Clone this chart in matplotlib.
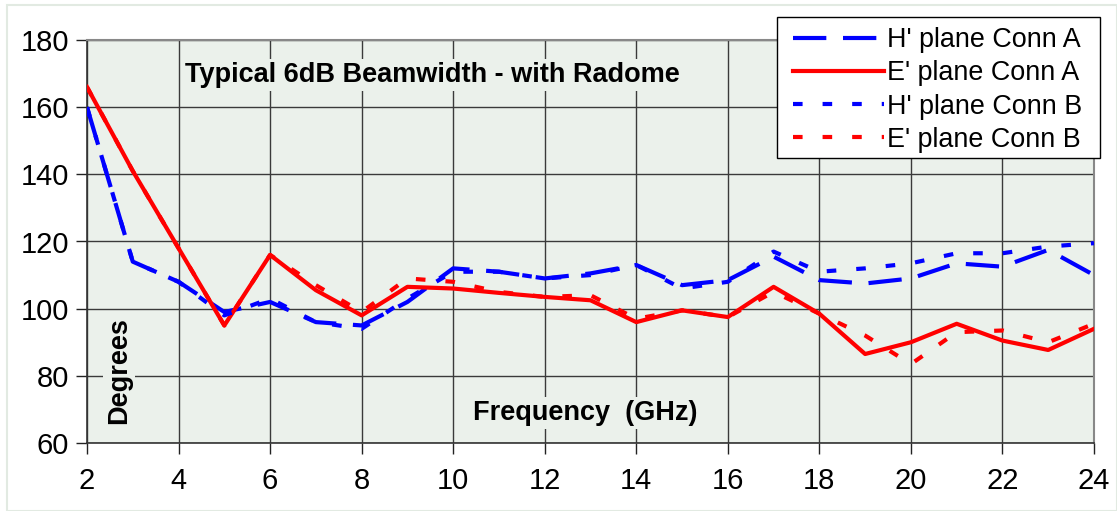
import matplotlib.pyplot as plt
from matplotlib.patches import Rectangle

plt.rcParams['font.family'] = ['Liberation Sans', 'DejaVu Sans']

# Beamwidth data (degrees vs GHz)
freq = [2, 3, 4, 5, 6, 7, 8, 9, 10, 11, 12, 13, 14, 15, 16, 17, 18, 19, 20, 21, 22, 23, 24]
h_conn_a = [160, 114, 108, 99, 102, 96, 95, 102, 112, 111, 109, 110.5, 113, 107, 108.5,
            115.5, 108.5, 107.5, 109, 113.5, 112.5, 117.5, 110]
e_conn_a = [166, 141, 118, 95, 116, 105.5, 98, 106.5, 106, 104.7, 103.5, 102.5, 96, 99.5, 97.5,
            106.5, 98.5, 86.5, 90, 95.5, 90.5, 87.7, 94]
h_conn_b = [160, 114, 108, 98, 103, 96, 94, 103, 111, 111, 109, 110, 113, 106, 108,
            117, 111, 112, 113.5, 116.5, 116.5, 118.5, 119.5]
e_conn_b = [166, 141, 118, 95, 116, 107, 99, 109, 108, 105, 103.5, 104, 97, 99.5, 97.5,
            105, 98.5, 92, 83.5, 93, 93.5, 90, 95.5]

x_ticks = list(range(2, 25, 2))
y_ticks = list(range(60, 181, 20))

BG = '#EBF1EB'
C_BLUE = '#0000FF'
C_RED = '#FF0000'

W, H = 1117, 511
fig = plt.figure(figsize=(W / 100, H / 100), dpi=100)
fig.patches.append(Rectangle((7 / W, 0), 1 - 7 / W, 1 - 5 / H,
                             transform=fig.transFigure, fill=False,
                             edgecolor='#E2EAE2', linewidth=1.5))

ax = fig.add_axes([87 / W, 1 - 443 / H, 1007 / W, 403 / H])
ax.set_facecolor(BG)

lw = 3
ax.plot(freq, h_conn_a, color=C_BLUE, linewidth=lw, dashes=(8, 4), label="H' plane Conn A", zorder=3)
ax.plot(freq, e_conn_a, color=C_RED, linewidth=lw, label="E' plane Conn A", zorder=3)
ax.plot(freq, h_conn_b, color=C_BLUE, linewidth=lw, dashes=(2.3, 4.8), label="H' plane Conn B", zorder=3)
ax.plot(freq, e_conn_b, color=C_RED, linewidth=lw, dashes=(2.3, 4.8), label="E' plane Conn B", zorder=3)

ax.set_xlim(2, 24)
ax.set_ylim(60, 180)
ax.set_xticks(x_ticks)
ax.set_yticks(y_ticks)
ax.grid(True, color='#3A3A3A', linewidth=1)
ax.set_axisbelow(True)
ax.tick_params(axis='both', direction='out', length=8, width=1, labelsize=21,
               color='#222222', pad=5)
ax.tick_params(axis='x', pad=9)
for s in ['left', 'bottom']:
    ax.spines[s].set_color('#333333')
    ax.spines[s].set_linewidth(1.2)
for s in ['top', 'right']:
    ax.spines[s].set_color('#888888')
    ax.spines[s].set_linewidth(1.5)

box = dict(facecolor=BG, edgecolor='none', pad=2)
ax.text(0.3426, 0.913, 'Typical 6dB Beamwidth - with Radome', transform=ax.transAxes,
        ha='center', va='center', fontsize=19.5, fontweight='bold', bbox=box, zorder=2)
ax.text(0.0318, 0.179, 'Degrees', transform=ax.transAxes, rotation=90,
        ha='center', va='center', fontsize=19.5, fontweight='bold', bbox=box, zorder=2)
ax.text(0.4945, 0.0744, 'Frequency  (GHz)', transform=ax.transAxes,
        ha='center', va='center', fontsize=19.5, fontweight='bold', bbox=box, zorder=2)

# legend frame drawn by hand so the side padding can differ from the top/bottom padding
ax.add_patch(Rectangle((777 / W, 1 - 158 / H), 323 / W, 141 / H,
                       transform=fig.transFigure, facecolor='white', edgecolor='black',
                       linewidth=1, clip_on=False, zorder=4))
leg = ax.legend(loc='upper right', bbox_to_anchor=(1082 / W, 1 - 27 / H),
                bbox_transform=fig.transFigure, fontsize=19.4, frameon=False,
                handlelength=3.4, handletextpad=0.1,
                borderpad=0, labelspacing=0.27, borderaxespad=0)
leg.set_zorder(5)

fig.savefig('out.png', dpi=100)
